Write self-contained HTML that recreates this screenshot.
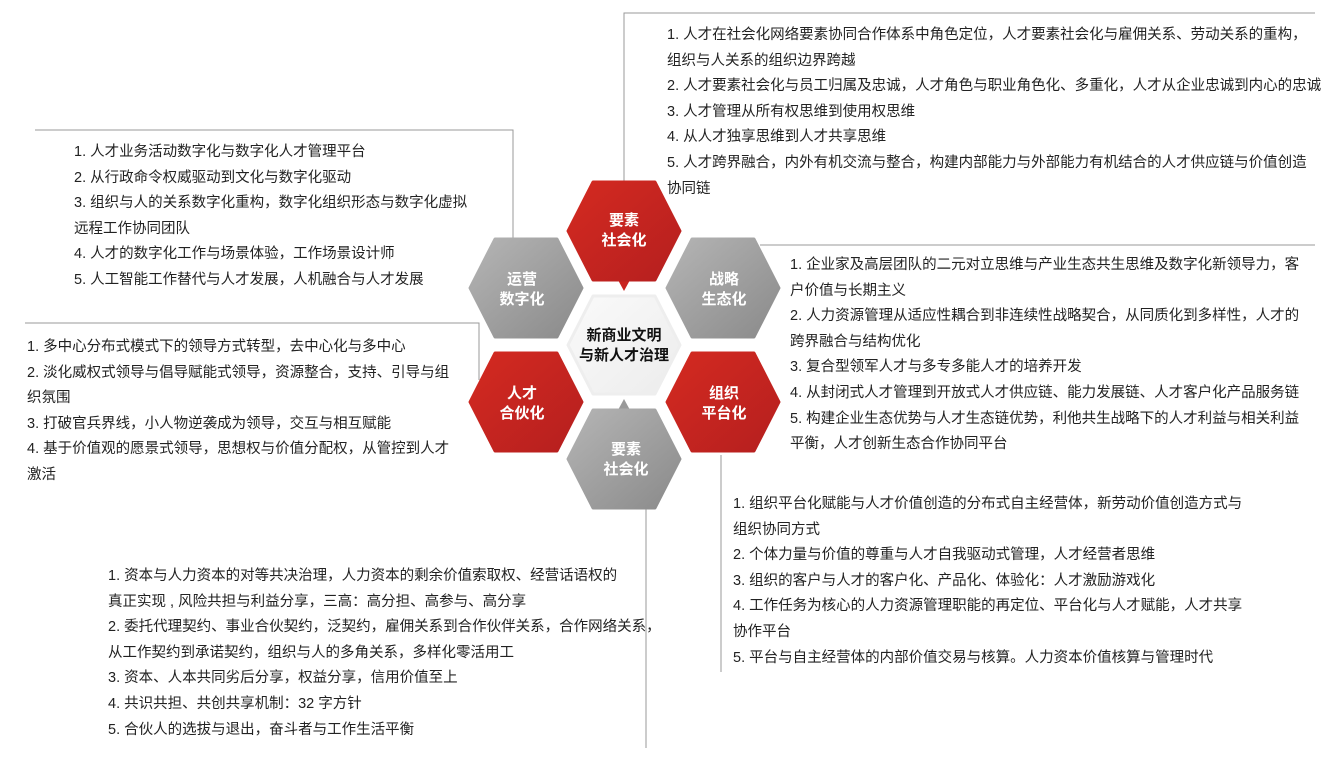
<!DOCTYPE html>
<html><head><meta charset="utf-8"><style>
body{margin:0;width:1342px;height:760px;background:#fff;position:relative;overflow:hidden;font-family:"Liberation Sans","Noto Sans CJK SC",sans-serif;}
.t{position:absolute;font-size:14.5px;color:#222;white-space:nowrap;line-height:25.6px;}
svg{position:absolute;left:0;top:0}
</style></head><body>
<svg width="1342" height="760">
<defs>
<linearGradient id="r" x1="0" y1="0" x2="1" y2="1"><stop offset="0" stop-color="#d42a20"/><stop offset="1" stop-color="#b51f1f"/></linearGradient>
<linearGradient id="g" x1="0" y1="0" x2="1" y2="1"><stop offset="0" stop-color="#b5b5b5"/><stop offset="1" stop-color="#8a8a8a"/></linearGradient>
<linearGradient id="w" x1="0" y1="0" x2="1" y2="1"><stop offset="0" stop-color="#fafafa"/><stop offset="1" stop-color="#ececec"/></linearGradient>
<polygon id="h" points="-56,0 -31,-49 31,-49 56,0 31,49 -31,49" stroke-linejoin="round"/>
</defs>
<g stroke="#999" stroke-width="1" fill="none">
<polyline points="624,182 624,13 1315,13"/>
<polyline points="35,130 513,130 513,238"/>
<polyline points="760,245 1315,245"/>
<polyline points="25,323 479,323 479,380"/>
<line x1="721" y1="455" x2="721" y2="672"/>
<line x1="646" y1="508" x2="646" y2="748"/>
</g>
<polygon points="618,280 630,280 624,291" fill="#c92420"/>
<polygon points="618,410 630,410 624,399" fill="#999"/>
<use href="#h" x="624" y="231" fill="url(#r)" stroke="url(#r)" stroke-width="3"/>
<use href="#h" x="526" y="288" fill="url(#g)" stroke="url(#g)" stroke-width="3"/>
<use href="#h" x="723" y="288" fill="url(#g)" stroke="url(#g)" stroke-width="3"/>
<use href="#h" x="624" y="345" fill="url(#w)" stroke="#eee" stroke-width="3"/>
<use href="#h" x="526" y="402" fill="url(#r)" stroke="url(#r)" stroke-width="3"/>
<use href="#h" x="723" y="402" fill="url(#r)" stroke="url(#r)" stroke-width="3"/>
<use href="#h" x="624" y="459" fill="url(#g)" stroke="url(#g)" stroke-width="3"/>
<g font-family="Liberation Sans,Noto Sans CJK SC,sans-serif" font-size="15" fill="#fff" text-anchor="middle" font-weight="bold">
<text x="624" y="225">要素</text><text x="624" y="245">社会化</text>
<text x="522" y="284">运营</text><text x="522" y="304">数字化</text>
<text x="724" y="284">战略</text><text x="724" y="304">生态化</text>
<text x="522" y="398">人才</text><text x="522" y="418">合伙化</text>
<text x="724" y="398">组织</text><text x="724" y="418">平台化</text>
<text x="626" y="454">要素</text><text x="626" y="474">社会化</text>
<text x="624" y="340" fill="#111">新商业文明</text><text x="624" y="360" fill="#111">与新人才治理</text>
</g>
</svg>
<div class="t" style="left:667px;top:23px">1. 人才在社会化网络要素协同合作体系中角色定位，人才要素社会化与雇佣关系、劳动关系的重构，<br>组织与人关系的组织边界跨越<br>2. 人才要素社会化与员工归属及忠诚，人才角色与职业角色化、多重化，人才从企业忠诚到内心的忠诚<br>3. 人才管理从所有权思维到使用权思维<br>4. 从人才独享思维到人才共享思维<br>5. 人才跨界融合，内外有机交流与整合，构建内部能力与外部能力有机结合的人才供应链与价值创造<br>协同链</div>
<div class="t" style="left:74px;top:140px">1. 人才业务活动数字化与数字化人才管理平台<br>2. 从行政命令权威驱动到文化与数字化驱动<br>3. 组织与人的关系数字化重构，数字化组织形态与数字化虚拟<br>远程工作协同团队<br>4. 人才的数字化工作与场景体验，工作场景设计师<br>5. 人工智能工作替代与人才发展，人机融合与人才发展</div>
<div class="t" style="left:790px;top:253px">1. 企业家及高层团队的二元对立思维与产业生态共生思维及数字化新领导力，客<br>户价值与长期主义<br>2. 人力资源管理从适应性耦合到非连续性战略契合，从同质化到多样性，人才的<br>跨界融合与结构优化<br>3. 复合型领军人才与多专多能人才的培养开发<br>4. 从封闭式人才管理到开放式人才供应链、能力发展链、人才客户化产品服务链<br>5. 构建企业生态优势与人才生态链优势，利他共生战略下的人才利益与相关利益<br>平衡，人才创新生态合作协同平台</div>
<div class="t" style="left:27px;top:335px">1. 多中心分布式模式下的领导方式转型，去中心化与多中心<br>2. 淡化威权式领导与倡导赋能式领导，资源整合，支持、引导与组<br>织氛围<br>3. 打破官兵界线，小人物逆袭成为领导，交互与相互赋能<br>4. 基于价值观的愿景式领导，思想权与价值分配权，从管控到人才<br>激活</div>
<div class="t" style="left:733px;top:492px">1. 组织平台化赋能与人才价值创造的分布式自主经营体，新劳动价值创造方式与<br>组织协同方式<br>2. 个体力量与价值的尊重与人才自我驱动式管理，人才经营者思维<br>3. 组织的客户与人才的客户化、产品化、体验化：人才激励游戏化<br>4. 工作任务为核心的人力资源管理职能的再定位、平台化与人才赋能，人才共享<br>协作平台<br>5. 平台与自主经营体的内部价值交易与核算。人力资本价值核算与管理时代</div>
<div class="t" style="left:108px;top:564px">1. 资本与人力资本的对等共决治理，人力资本的剩余价值索取权、经营话语权的<br>真正实现 , 风险共担与利益分享，三高：高分担、高参与、高分享<br>2. 委托代理契约、事业合伙契约，泛契约，雇佣关系到合作伙伴关系，合作网络关系，<br>从工作契约到承诺契约，组织与人的多角关系，多样化零活用工<br>3. 资本、人本共同劣后分享，权益分享，信用价值至上<br>4. 共识共担、共创共享机制：32 字方针<br>5. 合伙人的选拔与退出，奋斗者与工作生活平衡</div>
</body></html>
